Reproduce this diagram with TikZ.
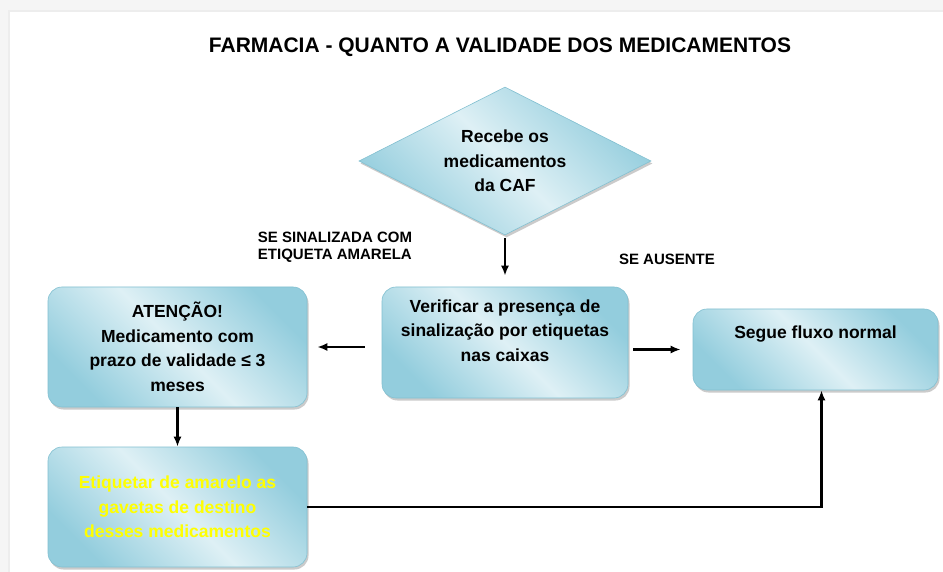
\documentclass[tikz,border=0pt]{standalone}
\usepackage{fontspec}
\setmainfont{Liberation Sans}
\usetikzlibrary{shapes.geometric,shadows,arrows.meta}

\definecolor{boxdark}{RGB}{147,205,221}
\definecolor{boxlight}{RGB}{222,240,245}
\definecolor{boxline}{RGB}{130,192,209}
\definecolor{tagyellow}{RGB}{255,255,0}

\begin{document}
\begin{tikzpicture}[>={Latex[length=10pt,width=8pt]}, x=1pt, y=-1pt,
	aqua/.style={draw=boxline, line width=0.6pt, top color=boxdark, bottom color=boxdark, middle color=boxlight, shading angle=-45, drop shadow={shadow xshift=1.5pt, shadow yshift=-2.5pt, fill=black!45, opacity=0.45}, align=center, font=\fontsize{17.5}{24.5}\selectfont\bfseries, inner sep=0pt},
	box/.style={aqua, rounded corners=14pt},
	cond/.style={font=\fontsize{15}{17}\selectfont\bfseries, align=left, inner sep=0pt},
	flow/.style={->, line width=2.2pt}]

\useasboundingbox (0,0) rectangle (943,572);
\fill [gray!8] (0,0) rectangle (943,572);
\fill [gray!14] (8,10) rectangle (943,572);
\fill [white] (10,12) rectangle (943,572);

\node [font=\fontsize{21}{25}\selectfont\bfseries] (title) at (500,47) {FARMACIA - QUANTO A VALIDADE DOS MEDICAMENTOS};

\node [diamond, aqua, minimum width=292pt, minimum height=148pt, aspect=2] (recebe) at (505,161) {Recebe os\\medicamentos\\da CAF};

\node [box, minimum width=246pt, minimum height=111pt, text height=37pt, text depth=0pt] (verificar) at (505,342.5) {Verificar a presença de\\sinalização por etiquetas\\nas caixas};
\draw [flow, shorten <=3pt, shorten >=11pt] (recebe.south) -- (verificar.north);

\node [box, minimum width=259pt, minimum height=120pt] (atencao) at (177.5,347) {ATENÇÃO!\\Medicamento com\\prazo de validade ≤ 3\\meses};
\draw [flow, shorten <=17pt, shorten >=10pt] (verificar.west |- atencao.east) -- (atencao.east);

\node [box, minimum width=245pt, minimum height=81pt, text height=13pt, text depth=36pt] (segue) at (815.5,349.5) {Segue fluxo normal};
\draw [flow, shorten <=5pt, shorten >=12pt] (verificar.east |- segue.west) -- (segue.west);

\node [box, minimum width=259pt, minimum height=120pt, text=tagyellow] (etiquetar) at (177.5,507) {Etiquetar de amarelo as\\gavetas de destino\\desses medicamentos};
\draw [flow] (atencao.south) -- (etiquetar.north);
\draw [flow] (etiquetar.east) -| ([xshift=6pt]segue.south);

\node [cond] (sinalizada) at (335,247) {SE SINALIZADA COM\\ETIQUETA AMARELA};
\node [cond] (ausente) at (667,259) {SE AUSENTE};

\end{tikzpicture}
\end{document}
